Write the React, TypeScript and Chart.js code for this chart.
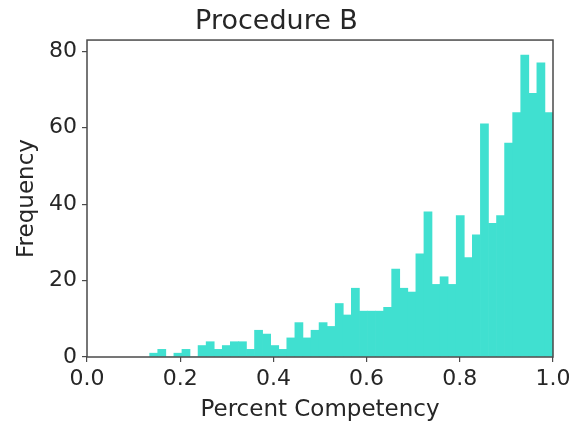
import React, { useEffect, useRef } from "react";
import { Chart, registerables } from "chart.js";

Chart.register(...registerables);

// Histogram: 50 equal bins between HIST_MIN and HIST_MAX
const HIST_MIN = 0.1345;
const HIST_MAX = 1.0;
const COUNTS = [
  1, 2, 0, 1, 2, 0, 3, 4, 2, 3,
  4, 4, 2, 7, 6, 3, 2, 5, 9, 5,
  7, 9, 8, 14, 11, 18, 12, 12, 12, 13,
  23, 18, 17, 27, 38, 19, 21, 19, 37, 26,
  32, 61, 35, 37, 56, 64, 79, 69, 77, 64,
];
const X_TICKS = [0, 0.2, 0.4, 0.6, 0.8, 1.0];
const Y_TICKS = [0, 20, 40, 60, 80];
const Y_MAX = 82.95;
const TITLE = "Procedure B";
const X_LABEL = "Percent Competency";
const Y_LABEL = "Frequency";

const FONT = "'DejaVu Sans', sans-serif";
const TEXT = "#262626";
const SPINE = "#4a4a4a";
const BAR = "#40E0D0";

const boxPlugin = {
  id: "box",
  afterDraw(chart: any) {
    const { ctx, chartArea } = chart;
    ctx.save();
    ctx.strokeStyle = SPINE;
    ctx.lineWidth = 1.5;
    ctx.strokeRect(chartArea.left, chartArea.top, chartArea.right - chartArea.left, chartArea.bottom - chartArea.top);
    ctx.restore();
  },
};

export default function App() {
  const ref = useRef<HTMLCanvasElement | null>(null);
  useEffect(() => {
    if (!ref.current) return;
    const w = (HIST_MAX - HIST_MIN) / COUNTS.length;
    const data = COUNTS.map((c, i) => ({ x: HIST_MIN + (i + 0.5) * w, y: c }));
    const chart = new Chart(ref.current, {
      type: "bar",
      data: {
        datasets: [
          {
            data: data as any,
            backgroundColor: BAR,
            borderWidth: 0,
            barPercentage: 1,
            categoryPercentage: 1,
          },
        ],
      },
      options: {
        animation: false,
        responsive: false,
        events: [],
        layout: { padding: { left: 0, right: 19, top: 0, bottom: 0 } },
        plugins: {
          legend: { display: false },
          tooltip: { enabled: false },
          title: {
            display: true,
            text: TITLE,
            color: TEXT,
            font: { family: FONT, size: 27, weight: "normal" as any, lineHeight: 1.15 },
            padding: { top: 6, bottom: 3 },
          },
        },
        scales: {
          x: {
            type: "linear",
            min: 0,
            max: 1,
            offset: false,
            afterFit: (s: any) => {
              s.height = 65;
              s.paddingLeft = 0;
              s.paddingRight = 0;
            },
            afterBuildTicks: (s: any) => {
              s.ticks = X_TICKS.map((v) => ({ value: v }));
            },
            grid: { display: true, drawOnChartArea: false, drawTicks: true, tickLength: 5, color: SPINE, offset: false, lineWidth: 1.2 },
            border: { display: false },
            ticks: {
              color: TEXT,
              font: { family: FONT, size: 22 },
              padding: 4,
              maxRotation: 0,
              autoSkip: false,
              callback: (v: any) => Number(v).toFixed(1),
            },
            title: {
              display: true,
              text: X_LABEL,
              color: TEXT,
              font: { family: FONT, size: 23, lineHeight: 1.0 },
              padding: { top: 0, bottom: 0 },
            },
          },
          y: {
            min: 0,
            max: Y_MAX,
            afterFit: (s: any) => {
              s.width = 87;
              s.paddingTop = 0;
              s.paddingBottom = 0;
            },
            afterBuildTicks: (s: any) => {
              s.ticks = Y_TICKS.map((v) => ({ value: v }));
            },
            grid: { display: true, drawOnChartArea: false, drawTicks: true, tickLength: 5, color: SPINE, lineWidth: 1.2 },
            border: { display: false },
            ticks: {
              color: TEXT,
              font: { family: FONT, size: 22 },
              padding: 5,
              autoSkip: false,
              callback: (v: any) => String(v),
            },
            title: {
              display: true,
              text: Y_LABEL,
              color: TEXT,
              font: { family: FONT, size: 23, lineHeight: 1.2 },
              padding: { top: 13, bottom: 0 },
            },
          },
        },
      },
      plugins: [boxPlugin],
    });
    return () => chart.destroy();
  }, []);
  return (
    <div style={{ position: "absolute", left: 0, top: 0, width: 572, height: 422, background: "#fff" }}>
      <canvas ref={ref} width={572} height={422} style={{ display: "block" }} />
    </div>
  );
}
